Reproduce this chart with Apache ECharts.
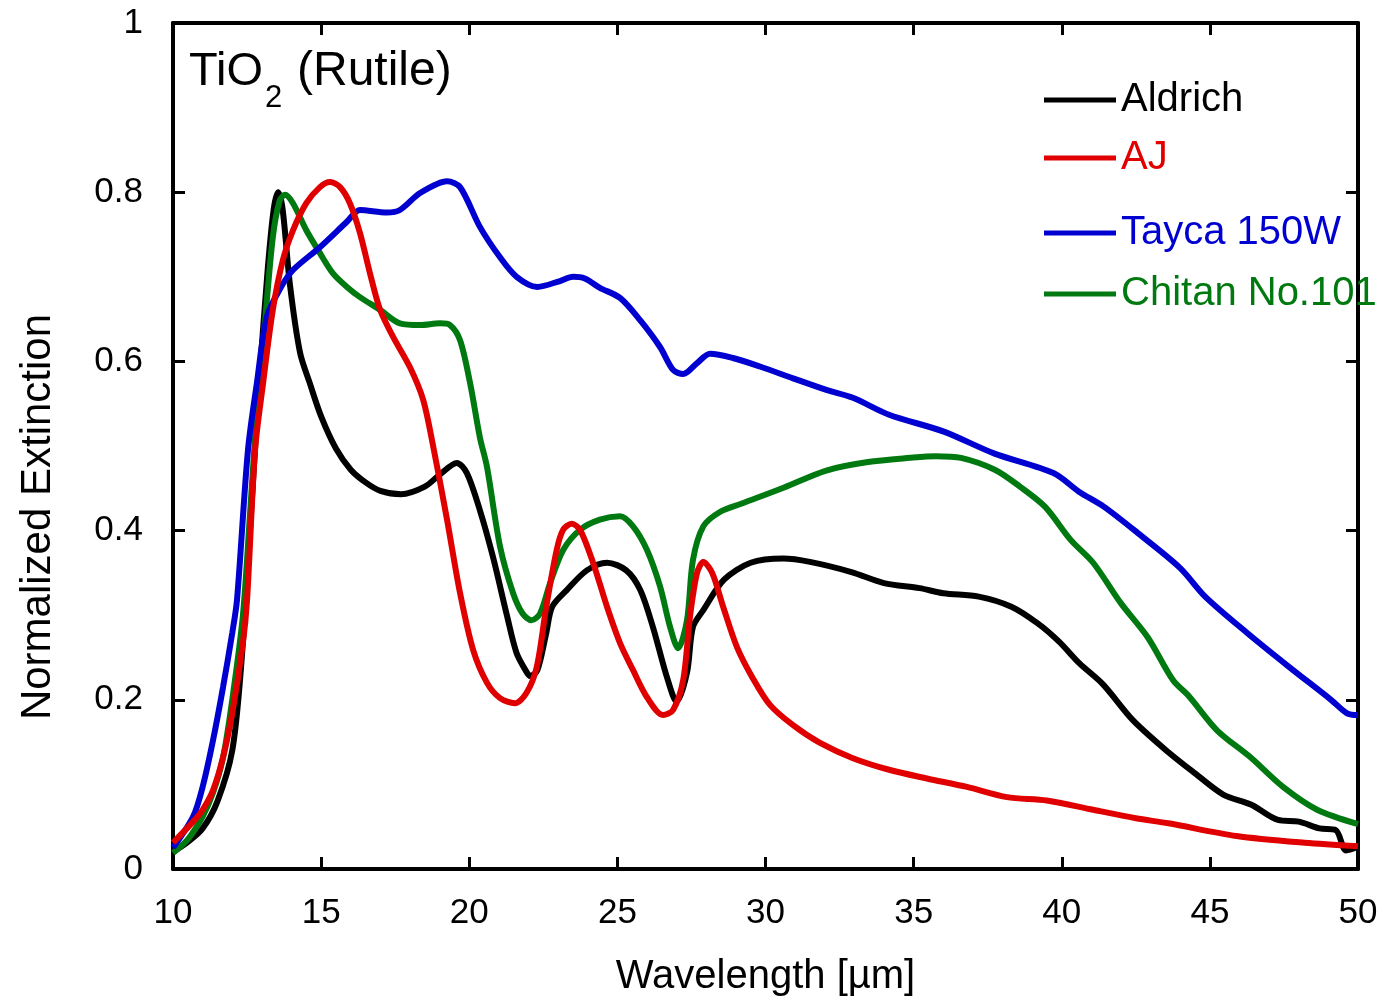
<!DOCTYPE html>
<html>
<head>
<meta charset="utf-8">
<script src="https://cdn.jsdelivr.net/npm/echarts@6/dist/echarts.min.js"></script>
<style>
  html, body { margin: 0; padding: 0; background: #fff; }
  #chart { width: 1384px; height: 997px; }
</style>
</head>
<body>
<div id="chart"></div>
<script>
// 波长 (µm) 与归一化消光
const aldrichX = [10, 10.5, 11, 11.5, 12, 12.3, 12.6, 12.9, 13.2, 13.4, 13.55, 13.7, 13.95, 14.29, 14.62, 15.0, 15.5, 16.0, 16.5, 17.0, 17.7, 18.5, 19.0, 19.58, 19.92, 20.36, 20.8, 21.27, 21.6, 21.95, 22.05, 22.3, 22.6, 22.8, 23.3, 23.97, 24.65, 25.3, 25.77, 26.2, 26.67, 27.0, 27.35, 27.55, 27.9, 28.6, 29.5, 30.6, 31.5, 32.9, 34.0, 35.2, 36.0, 37.2, 38.3, 39.2, 39.9, 40.6, 41.4, 42.4, 43.6, 44.5, 45.45, 46.4, 47.3, 48.0, 48.7, 49.25, 49.6, 50];
const aldrichY = [0.02, 0.032, 0.048, 0.08, 0.14, 0.24, 0.40, 0.57, 0.71, 0.78, 0.80, 0.78, 0.69, 0.61, 0.574, 0.535, 0.497, 0.472, 0.457, 0.447, 0.443, 0.452, 0.466, 0.480, 0.468, 0.424, 0.369, 0.30, 0.255, 0.232, 0.228, 0.235, 0.279, 0.31, 0.33, 0.353, 0.362, 0.353, 0.33, 0.286, 0.227, 0.198, 0.232, 0.286, 0.306, 0.342, 0.362, 0.367, 0.363, 0.351, 0.338, 0.332, 0.326, 0.322, 0.31, 0.29, 0.269, 0.243, 0.218, 0.176, 0.138, 0.113, 0.088, 0.076, 0.058, 0.056, 0.048, 0.046, 0.022, 0.026];

const ajX = [10, 10.68, 11, 11.35, 11.69, 12, 12.36, 12.5, 12.77, 13.04, 13.37, 13.71, 14.05, 14.5, 14.96, 15.3, 15.64, 15.97, 16.31, 16.65, 16.99, 17.43, 18.0, 18.44, 18.78, 19.25, 19.69, 20.13, 20.6, 21.04, 21.54, 21.93, 22.28, 22.6, 22.95, 23.17, 23.46, 23.74, 24.18, 24.65, 25.09, 25.53, 26.0, 26.54, 26.88, 27.22, 27.45, 27.69, 27.9, 28.2, 28.57, 29.04, 29.58, 30.15, 30.93, 31.84, 32.95, 34.2, 35.45, 36.8, 38.15, 39.5, 41.06, 42.5, 43.6, 45.9, 48.2, 50];
const ajY = [0.031, 0.056, 0.07, 0.093, 0.132, 0.184, 0.267, 0.318, 0.495, 0.574, 0.661, 0.72, 0.755, 0.787, 0.806, 0.812, 0.806, 0.787, 0.752, 0.704, 0.661, 0.629, 0.593, 0.555, 0.50, 0.413, 0.326, 0.259, 0.22, 0.202, 0.196, 0.208, 0.239, 0.31, 0.377, 0.401, 0.408, 0.401, 0.362, 0.31, 0.267, 0.235, 0.203, 0.182, 0.188, 0.223, 0.298, 0.35, 0.363, 0.35, 0.31, 0.262, 0.225, 0.194, 0.17, 0.149, 0.131, 0.117, 0.107, 0.097, 0.085, 0.081, 0.07, 0.06, 0.054, 0.039, 0.031, 0.027];

const taycaX = [10, 10.68, 11, 11.35, 11.69, 12, 12.16, 12.53, 12.83, 13.17, 13.6, 14.05, 14.96, 15.87, 16.31, 17.22, 17.66, 18.34, 19.25, 19.69, 20.36, 21.04, 21.6, 22.3, 23.06, 23.5, 23.9, 24.41, 25.09, 25.76, 26.44, 26.88, 27.22, 27.69, 28.13, 28.9, 29.81, 30.93, 32.08, 32.95, 34.17, 36.02, 37.73, 39.72, 40.58, 41.43, 42.57, 43.99, 44.84, 46.26, 47.67, 49.09, 49.63, 50];
const taycaY = [0.025, 0.062, 0.097, 0.152, 0.215, 0.279, 0.318, 0.495, 0.574, 0.653, 0.685, 0.708, 0.735, 0.765, 0.779, 0.776, 0.779, 0.799, 0.813, 0.806, 0.759, 0.723, 0.70, 0.688, 0.695, 0.70, 0.698, 0.687, 0.675, 0.649, 0.617, 0.59, 0.585, 0.598, 0.609, 0.604, 0.594, 0.58, 0.566, 0.557, 0.537, 0.517, 0.491, 0.468, 0.446, 0.428, 0.397, 0.356, 0.322, 0.279, 0.239, 0.20, 0.184, 0.182];

const chitanX = [10, 10.5, 11, 11.35, 11.69, 12, 12.36, 12.6, 12.9, 13.1, 13.37, 13.6, 13.78, 14.05, 14.5, 14.96, 15.4, 15.87, 16.31, 16.99, 17.66, 18.34, 19.01, 19.35, 19.69, 20.03, 20.36, 20.6, 21.04, 21.48, 21.8, 22.1, 22.39, 22.73, 23.17, 23.74, 24.41, 25.09, 25.53, 26.0, 26.44, 26.78, 27.05, 27.35, 27.55, 27.9, 28.46, 29.2, 30.63, 32.05, 33.46, 34.88, 35.75, 36.6, 37.74, 38.59, 39.44, 40.3, 41.06, 42.0, 42.9, 43.76, 44.3, 45.24, 46.37, 47.47, 48.62, 50];
const chitanY = [0.019, 0.035, 0.062, 0.09, 0.132, 0.2, 0.30, 0.42, 0.574, 0.645, 0.747, 0.79, 0.797, 0.787, 0.755, 0.728, 0.704, 0.688, 0.676, 0.661, 0.645, 0.643, 0.645, 0.643, 0.625, 0.574, 0.51, 0.475, 0.381, 0.326, 0.302, 0.294, 0.302, 0.338, 0.377, 0.401, 0.413, 0.417, 0.405, 0.377, 0.334, 0.286, 0.261, 0.294, 0.365, 0.405, 0.422, 0.432, 0.451, 0.471, 0.481, 0.486, 0.488, 0.486, 0.472, 0.452, 0.428, 0.389, 0.362, 0.314, 0.274, 0.223, 0.204, 0.164, 0.132, 0.097, 0.07, 0.053];

const xTicks = [10, 15, 20, 25, 30, 35, 40, 45, 50];
const yTicks = [0, 0.2, 0.4, 0.6, 0.8, 1];

const pairs = (xs, ys) => xs.map((x, i) => [x, ys[i]]);

const FONT = "Liberation Sans, Arial, sans-serif";
const AXIS_COLOR = "#000";

const axisBase = {
  axisLine: { show: true, onZero: false, lineStyle: { color: AXIS_COLOR, width: 4 } },
  axisTick: { show: true, inside: true, length: 12, lineStyle: { color: AXIS_COLOR, width: 3 } },
  splitLine: { show: false }
};

let myChart = echarts.init(document.getElementById("chart"));

// 图例: 每行一个, 行距不等
const legendRow = (name, color, top) => ({
  show: true,
  left: 1044,
  top: top,
  padding: 0,
  icon: "rect",
  itemWidth: 72,
  itemHeight: 5,
  selectedMode: false,
  textStyle: { fontFamily: FONT, fontSize: 40, lineHeight: 40, color: color },
  data: [{ name: name, textStyle: { color: color } }]
});

const lineSeries = (name, xs, ys, color) => ({
  name: name,
  type: "line",
  data: pairs(xs, ys),
  showSymbol: false,
  smooth: 0.3,
  color: color,
  lineStyle: { color: color, width: 6 }
});

myChart.setOption({
  animation: false,
  backgroundColor: "#fff",
  grid: { left: 173, right: 26, top: 23, bottom: 128, outerBoundsMode: "none" },
  legend: [
    legendRow("Aldrich", "#000000", 80),
    legendRow("AJ", "#e00000", 138),
    legendRow("Tayca 150W", "#0000d0", 213),
    legendRow("Chitan No.101", "#007a10", 274)
  ],
  xAxis: [
    Object.assign({}, axisBase, {
      type: "value",
      position: "bottom",
      min: xTicks[0],
      max: xTicks[xTicks.length - 1],
      interval: 5,
      name: "Wavelength [\u00b5m]",
      nameLocation: "middle",
      nameGap: 88,
      nameTextStyle: { fontFamily: FONT, fontSize: 40, color: "#000" },
      axisLabel: { fontFamily: FONT, fontSize: 35, color: "#000", margin: 27 }
    }),
    Object.assign({}, axisBase, {
      type: "value",
      position: "top",
      min: xTicks[0],
      max: xTicks[xTicks.length - 1],
      interval: 5,
      axisLabel: { show: false }
    })
  ],
  yAxis: [
    Object.assign({}, axisBase, {
      type: "value",
      position: "left",
      min: yTicks[0],
      max: yTicks[yTicks.length - 1],
      interval: 0.2,
      axisLabel: { fontFamily: FONT, fontSize: 35, color: "#000", margin: 30, padding: [5, 0, 0, 0] }
    }),
    Object.assign({}, axisBase, {
      type: "value",
      position: "right",
      min: yTicks[0],
      max: yTicks[yTicks.length - 1],
      interval: 0.2,
      axisLabel: { show: false }
    })
  ],
  graphic: [
    {
      type: "text",
      x: 38,
      y: 517,
      rotation: Math.PI / 2,
      style: {
        text: "Normalized Extinction",
        font: "42px " + FONT,
        fill: "#000",
        textAlign: "center",
        textVerticalAlign: "middle"
      }
    },
    {
      type: "text",
      x: 189,
      y: 72,
      style: { text: "TiO", font: "47px " + FONT, fill: "#000", textVerticalAlign: "middle" }
    },
    {
      type: "text",
      x: 265,
      y: 98,
      style: { text: "2", font: "31px " + FONT, fill: "#000", textVerticalAlign: "middle" }
    },
    {
      type: "text",
      x: 297,
      y: 72,
      style: { text: "(Rutile)", font: "48px " + FONT, fill: "#000", textVerticalAlign: "middle" }
    }
  ],
  // 叠放顺序: 黑 < 绿 < 蓝 < 红
  series: [
    lineSeries("Aldrich", aldrichX, aldrichY, "#000000"),
    lineSeries("Chitan No.101", chitanX, chitanY, "#007a10"),
    lineSeries("Tayca 150W", taycaX, taycaY, "#0000d0"),
    lineSeries("AJ", ajX, ajY, "#e00000")
  ]
});
</script>
</body>
</html>
